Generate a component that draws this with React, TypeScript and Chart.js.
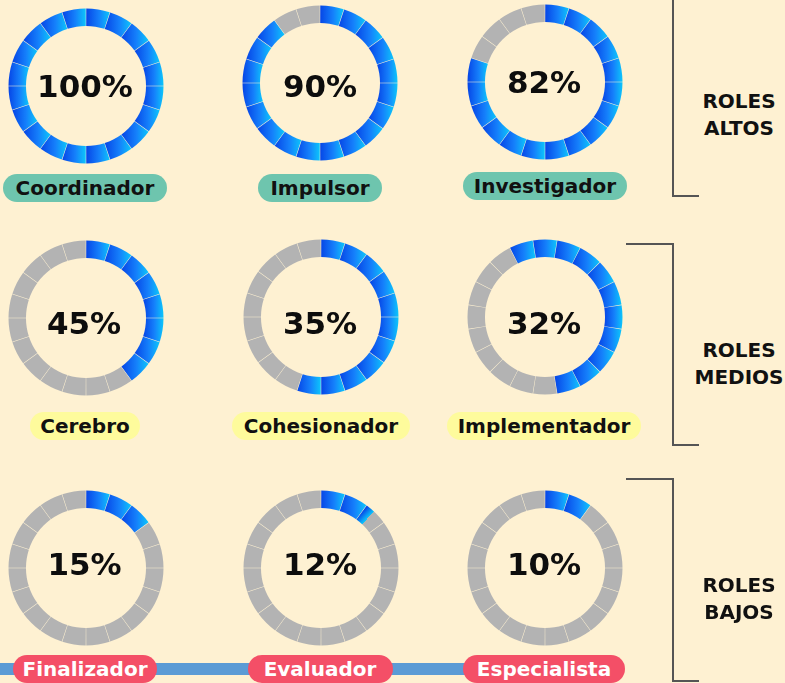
import React, { useEffect, useRef } from 'react';
import { Chart, ArcElement, DoughnutController } from 'chart.js';

Chart.register(ArcElement, DoughnutController);

// ---------- data ----------
const roleNames = [
  'Coordinador', 'Impulsor', 'Investigador',
  'Cerebro', 'Cohesionador', 'Implementador',
  'Finalizador', 'Evaluador', 'Especialista',
];
// percentage printed in the middle of each ring
const percentLabels = [100, 90, 82, 45, 35, 32, 15, 12, 10];
// share of each ring painted blue, as drawn in the picture
const ringFill = [100, 90, 80, 40, 55, 55, 15, 12, 10];
const groupTitles = [
  ['ROLES', 'ALTOS'],
  ['ROLES', 'MEDIOS'],
  ['ROLES', 'BAJOS'],
];
const SEGMENTS = 20;

// ---------- layout / style ----------
const BG = '#fef1d2';
const GRAY = '#b3b3b3';
const DARK = '#0645e6';
const MID = '#1580fb';
const LIGHT = '#0cc6fb';
const FONT = '"DejaVu Sans", sans-serif';
const CANVAS = 170;
const ringStartDeg = [0, 0, 0, 0, 0, -27, 0, 0, 0];
const ringCenters = [
  [86, 86], [320, 83], [545, 82],
  [86, 318], [321, 317], [545, 317],
  [86, 568], [321, 568], [545, 568],
];
const textCenters = [
  [85, 86], [320, 86], [544, 82],
  [84, 322.5], [320, 322.5], [544, 322.5],
  [84.5, 564], [320, 564], [544, 564],
];
const pillBoxes = [
  { cx: 85, cy: 187.5, w: 164 }, { cx: 320, cy: 187.5, w: 124 }, { cx: 545, cy: 186, w: 164 },
  { cx: 85, cy: 426, w: 110 }, { cx: 321, cy: 426, w: 178 }, { cx: 544, cy: 426, w: 194 },
  { cx: 85, cy: 668.5, w: 144 }, { cx: 320, cy: 668.5, w: 145 }, { cx: 544, cy: 668.5, w: 162 },
];
const pillStyles = [
  { bg: '#6ec5ae', color: '#111' },
  { bg: '#fefb9c', color: '#111' },
  { bg: '#f44f67', color: '#fff' },
];
const groupTextTop = [87.75, 336.5, 571.5];

function segColor(c: any, fill: number, rot: number): any {
  if (!c || c.type !== 'data') return GRAY;
  const step = 100 / SEGMENTS;
  const i = c.dataIndex;
  const blueShare = Math.max(0, Math.min(1, (fill - i * step) / step));
  if (blueShare <= 0) return GRAY;
  const chart = c.chart;
  const area = chart.chartArea;
  const ctrl: any = chart.getDatasetMeta(c.datasetIndex).controller;
  if (!area || !ctrl || !ctrl.outerRadius) return MID;
  const g = chart.ctx as CanvasRenderingContext2D;
  const cx = (area.left + area.right) / 2 + (ctrl.offsetX || 0);
  const cy = (area.top + area.bottom) / 2 + (ctrl.offsetY || 0);
  const ro = ctrl.outerRadius + 1.5;
  const ri = ctrl.innerRadius + 1.5;
  const stepRad = (2 * Math.PI) / SEGMENTS;
  const a0 = (rot * Math.PI) / 180 + i * stepRad;
  const a1 = a0 + stepRad;
  const pt = (a: number, r: number) => [cx + r * Math.sin(a), cy - r * Math.cos(a)];
  if (blueShare >= 1) {
    const xs = [pt(a0, ri), pt(a0, ro), pt(a1, ri), pt(a1, ro), pt((a0 + a1) / 2, ro), pt((a0 + a1) / 2, ri)].map((p) => p[0]);
    const x0 = Math.min(...xs);
    const x1 = Math.max(...xs);
    const grad = g.createLinearGradient(x0, 0, x1, 0);
    grad.addColorStop(0, DARK);
    grad.addColorStop(0.55, MID);
    grad.addColorStop(1, LIGHT);
    return grad;
  }
  const as = a0 + (a1 - a0) * blueShare;
  const rm = (ri + ro) / 2;
  const [px, py] = pt(as, rm);
  const tx = Math.cos(as);
  const ty = Math.sin(as);
  const L = Math.max(2, rm * (as - a0));
  const grad = g.createLinearGradient(px - tx * L, py - ty * L, px + tx * L, py + ty * L);
  grad.addColorStop(0, DARK);
  grad.addColorStop(0.5, LIGHT);
  grad.addColorStop(0.5, GRAY);
  grad.addColorStop(1, GRAY);
  return grad;
}

function Ring({ index }: { index: number }) {
  const ref = useRef<HTMLCanvasElement>(null);
  useEffect(() => {
    const fill = ringFill[index];
    const rot = ringStartDeg[index];
    const step = 100 / SEGMENTS;
    const segData = Array.from({ length: SEGMENTS }, () => step);
    const chart = new Chart(ref.current as HTMLCanvasElement, {
      type: 'doughnut',
      data: {
        labels: segData.map((_, i) => `${i * step}-${(i + 1) * step}%`),
        datasets: [
          {
            data: segData,
            backgroundColor: (c: any) => segColor(c, fill, rot),
            borderWidth: 0,
            spacing: 3,
          } as any,
        ],
      },
      options: {
        responsive: false,
        animation: false,
        rotation: rot,
        cutout: '77%',
        radius: 76,
        events: [],
        plugins: { legend: { display: false }, tooltip: { enabled: false } },
      } as any,
    });
    return () => chart.destroy();
  }, [index]);
  const [cx, cy] = ringCenters[index];
  return (
    <canvas
      ref={ref}
      width={CANVAS}
      height={CANVAS}
      style={{ position: 'absolute', left: cx - CANVAS / 2, top: cy - CANVAS / 2, width: CANVAS, height: CANVAS }}
    />
  );
}

const line = (left: number, top: number, width: number, height: number, key: string) => (
  <div key={key} style={{ position: 'absolute', left, top, width, height, background: '#555' }} />
);

export default function App() {
  return (
    <div style={{ position: 'relative', width: 785, height: 683, overflow: 'hidden', background: BG, fontFamily: FONT }}>
      <style>{`body{margin:0;}`}</style>
      <div style={{ position: 'absolute', left: 0, top: 663, width: 465, height: 12, background: '#5b9bd5' }} />
      {roleNames.map((_, i) => (
        <Ring key={'r' + i} index={i} />
      ))}
      {percentLabels.map((p, i) => (
        <div
          key={'t' + i}
          style={{
            position: 'absolute',
            left: textCenters[i][0] - 70,
            top: textCenters[i][1] - 20,
            width: 140,
            height: 40,
            lineHeight: '40px',
            textAlign: 'center',
            fontWeight: 700,
            fontSize: 31,
            color: '#0d0d0d',
          }}
        >
          {p}%
        </div>
      ))}
      {roleNames.map((name, i) => {
        const b = pillBoxes[i];
        const s = pillStyles[Math.floor(i / 3)];
        return (
          <div
            key={'p' + i}
            style={{
              position: 'absolute',
              left: b.cx - b.w / 2,
              top: b.cy - 14,
              width: b.w,
              height: 28,
              lineHeight: '28px',
              borderRadius: 14,
              background: s.bg,
              color: s.color,
              textAlign: 'center',
              fontWeight: 700,
              fontSize: 20,
              whiteSpace: 'nowrap',
            }}
          >
            {name}
          </div>
        );
      })}
      {line(672, 0, 2, 197, 'b1v')}
      {line(672, 195, 27, 2, 'b1h')}
      {line(626, 243, 48, 2, 'b2t')}
      {line(672, 243, 2, 203, 'b2v')}
      {line(672, 444, 27, 2, 'b2b')}
      {line(626, 478, 48, 2, 'b3t')}
      {line(672, 478, 2, 204, 'b3v')}
      {line(672, 680, 27, 2, 'b3b')}
      {groupTitles.map((g, i) => (
        <div
          key={'g' + i}
          style={{
            position: 'absolute',
            left: 684,
            top: groupTextTop[i],
            width: 110,
            textAlign: 'center',
            fontWeight: 700,
            fontSize: 20,
            lineHeight: '27.5px',
            color: '#111',
          }}
        >
          {g[0]}
          <br />
          {g[1]}
        </div>
      ))}
    </div>
  );
}
